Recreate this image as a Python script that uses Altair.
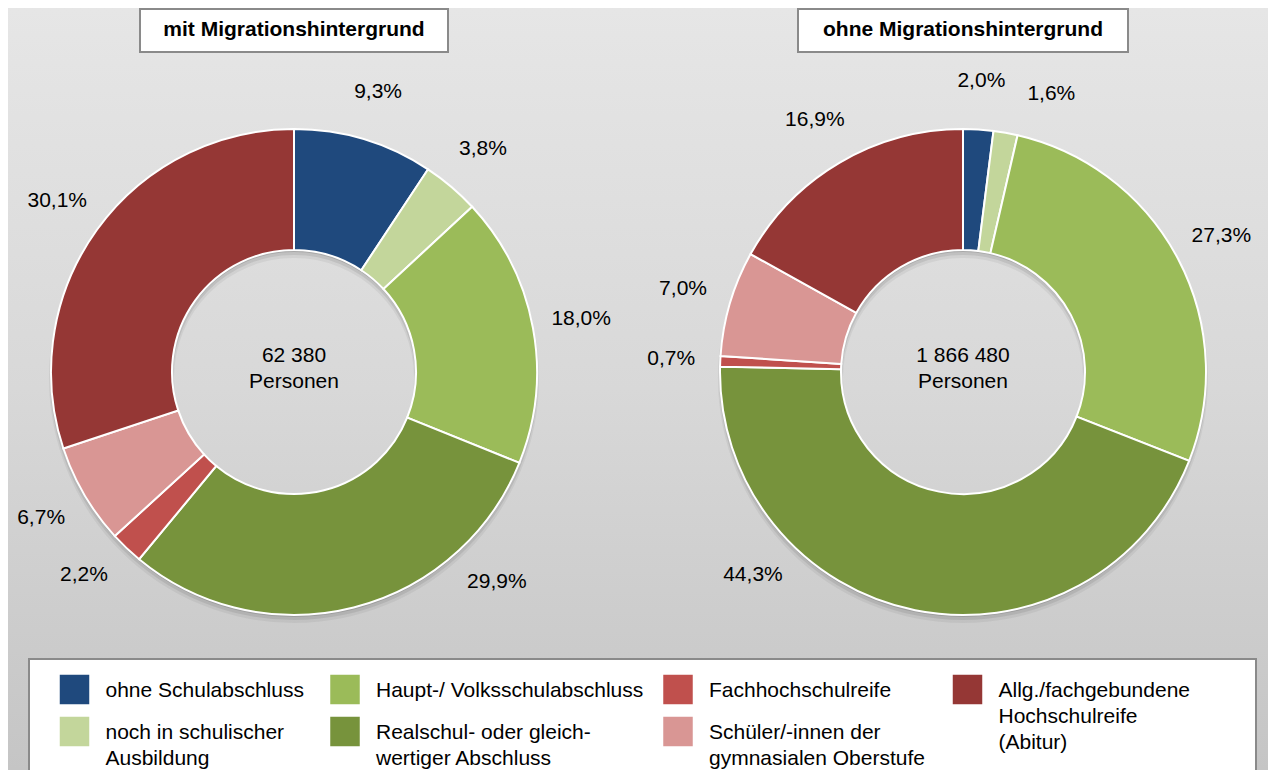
import math
import altair as alt
import pandas as pd

# ---------------- data ----------------
categories = [
    "ohne Schulabschluss",
    "noch in schulischer Ausbildung",
    "Haupt-/ Volksschulabschluss",
    "Realschul- oder gleichwertiger Abschluss",
    "Fachhochschulreife",
    "Schüler/-innen der gymnasialen Oberstufe",
    "Allg./fachgebundene Hochschulreife (Abitur)",
]
legend_labels = [
    "ohne Schulabschluss",
    "noch in schulischer\nAusbildung",
    "Haupt-/ Volksschulabschluss",
    "Realschul- oder gleich-\nwertiger Abschluss",
    "Fachhochschulreife",
    "Schüler/-innen der\ngymnasialen Oberstufe",
    "Allg./fachgebundene\nHochschulreife\n(Abitur)",
]
colors = ["#1F497D", "#C3D69B", "#9BBB59", "#77933C", "#C0504D", "#D99694", "#953735"]
titles = ["mit Migrationshintergrund", "ohne Migrationshintergrund"]
values_mit = [9.3, 3.8, 18.0, 29.9, 2.2, 6.7, 30.1]
values_ohne = [2.0, 1.6, 27.3, 44.3, 0.7, 7.0, 16.9]
persons = [62380, 1866480]

# ---------------- layout constants ----------------
W, H = 1260, 762
FONT = "Liberation Sans"
R_OUT, R_IN, R_LAB = 243, 122, 292
CENTERS = [(286, 364), (955, 364)]
BOX_W = [308, 330]
MIN_SEP = 14.0            # minimum angular gap between labels (deg)
BOTTOM_LO, BOTTOM_HI = 136.0, 226.0   # keep labels out of the legend area
LEG_COL_X = [66.5, 337, 670, 959.5]
LEG_ROW_Y = [681.5, 723.5]

theta_scale = alt.Scale(domain=[0, 100], range=[0, 2 * math.pi])
color_scale = alt.Scale(domain=categories, range=colors)


def fmt_pct(v):
    return f"{v:.1f}".replace(".", ",") + "%"


def donut_frame(values):
    total = sum(values)
    rows, cum, prev = [], 0.0, -1000.0
    for cat, v in zip(categories, values):
        start = cum / total * 100
        cum += v
        end = cum / total * 100
        ang = (start + end) / 2 * 3.6
        ang = max(ang, prev + MIN_SEP)
        if BOTTOM_LO < ang < BOTTOM_HI:
            ang = BOTTOM_LO if ang < 180 else BOTTOM_HI
        prev = ang
        rows.append(dict(cat=cat, value=v, start=start, end=end,
                         lab=ang / 3.6, label=fmt_pct(v)))
    return pd.DataFrame(rows)


def donut_layers(values, center, title, box_w, n_persons):
    cx, cy = center
    df = donut_frame(values)
    one = pd.DataFrame({"a": [1]})
    layers = []
    for off, op, extra in [(6, 0.05, 2), (4, 0.08, 1), (2, 0.12, 0)]:
        layers.append(
            alt.Chart(one).mark_arc(theta=0, theta2=2 * math.pi, radius=R_OUT + extra,
                                    radius2=R_IN - extra, color="#000000", opacity=op)
            .encode(x=alt.value(cx), y=alt.value(cy + off))
        )
    layers.append(
        alt.Chart(df).mark_arc(radius=R_OUT, radius2=R_IN, stroke="white", strokeWidth=2)
        .encode(
            theta=alt.Theta("start:Q", stack=None, scale=theta_scale),
            theta2="end:Q",
            color=alt.Color("cat:N", scale=color_scale, legend=None),
            x=alt.value(cx), y=alt.value(cy),
        )
    )
    layers.append(
        alt.Chart(df).mark_text(font=FONT, fontSize=21, color="black",
                                align="center", baseline="middle")
        .encode(
            theta=alt.Theta("lab:Q", stack=None, scale=theta_scale),
            radius=alt.value(R_LAB),
            text="label:N",
            x=alt.value(cx), y=alt.value(cy),
        )
    )
    center_txt = pd.DataFrame({"t": [f"{n_persons:,}".replace(",", " ") + "\nPersonen"]})
    layers.append(
        alt.Chart(center_txt).mark_text(font=FONT, fontSize=21, color="black", lineBreak="\n",
                                        lineHeight=26, align="center", baseline="middle")
        .encode(text="t:N", x=alt.value(cx), y=alt.value(cy - 16))
    )
    title_df = pd.DataFrame({"t": [title]})
    layers.append(
        alt.Chart(title_df).mark_rect(fill="white", stroke="#8a8a8a", strokeWidth=2)
        .encode(x=alt.value(cx - box_w / 2), x2=alt.value(cx + box_w / 2),
                y=alt.value(1), y2=alt.value(44))
    )
    layers.append(
        alt.Chart(title_df).mark_text(font=FONT, fontSize=21, fontWeight="bold", color="black",
                                      align="center", baseline="middle")
        .encode(text="t:N", x=alt.value(cx), y=alt.value(22))
    )
    return layers


# background gradient
bg = alt.Chart(pd.DataFrame({"a": [1]})).mark_rect(
    color=alt.Gradient(
        gradient="linear",
        stops=[alt.GradientStop(color="#e6e6e6", offset=0),
               alt.GradientStop(color="#d8d8d8", offset=0.5),
               alt.GradientStop(color="#c5c5c5", offset=1)],
        x1=0, x2=0, y1=0, y2=1,
    )
).encode(x=alt.value(0), x2=alt.value(W), y=alt.value(0), y2=alt.value(H))

left = donut_layers(values_mit, CENTERS[0], titles[0], BOX_W[0], persons[0])
right = donut_layers(values_ohne, CENTERS[1], titles[1], BOX_W[1], persons[1])

# legend
leg_df = pd.DataFrame({
    "cat": categories,
    "text": legend_labels,
    "col": [i // 2 for i in range(len(categories))],
    "row": [i % 2 for i in range(len(categories))],
})
lx = alt.X("col:Q", scale=alt.Scale(domain=[0, 1, 2, 3], range=LEG_COL_X, zero=False, nice=False), axis=None)
ly = alt.Y("row:Q", scale=alt.Scale(domain=[0, 1], range=LEG_ROW_Y, zero=False, nice=False), axis=None)

leg_box = alt.Chart(pd.DataFrame({"a": [1]})).mark_rect(
    fill="white", stroke="#8a8a8a", strokeWidth=2
).encode(x=alt.value(21), x2=alt.value(1248), y=alt.value(651), y2=alt.value(800))

leg_sq = alt.Chart(leg_df).mark_point(shape="square", filled=True, size=870, opacity=1, strokeWidth=0).encode(
    x=lx, y=ly, color=alt.Color("cat:N", scale=color_scale, legend=None)
)
leg_txt = alt.Chart(leg_df).mark_text(
    font=FONT, fontSize=21, color="black", align="left", baseline="top",
    dx=31, dy=-10, lineBreak="\n", lineHeight=26
).encode(x=lx, y=ly, text="text:N")

chart = alt.layer(bg, *left, *right, leg_box, leg_sq, leg_txt).properties(
    width=W, height=H, padding=0, background="#d8d8d8",
    autosize=alt.AutoSizeParams(type="none"),
).configure_view(stroke=None)

chart.save("out.html", embed_options={"renderer": "svg", "actions": False})
